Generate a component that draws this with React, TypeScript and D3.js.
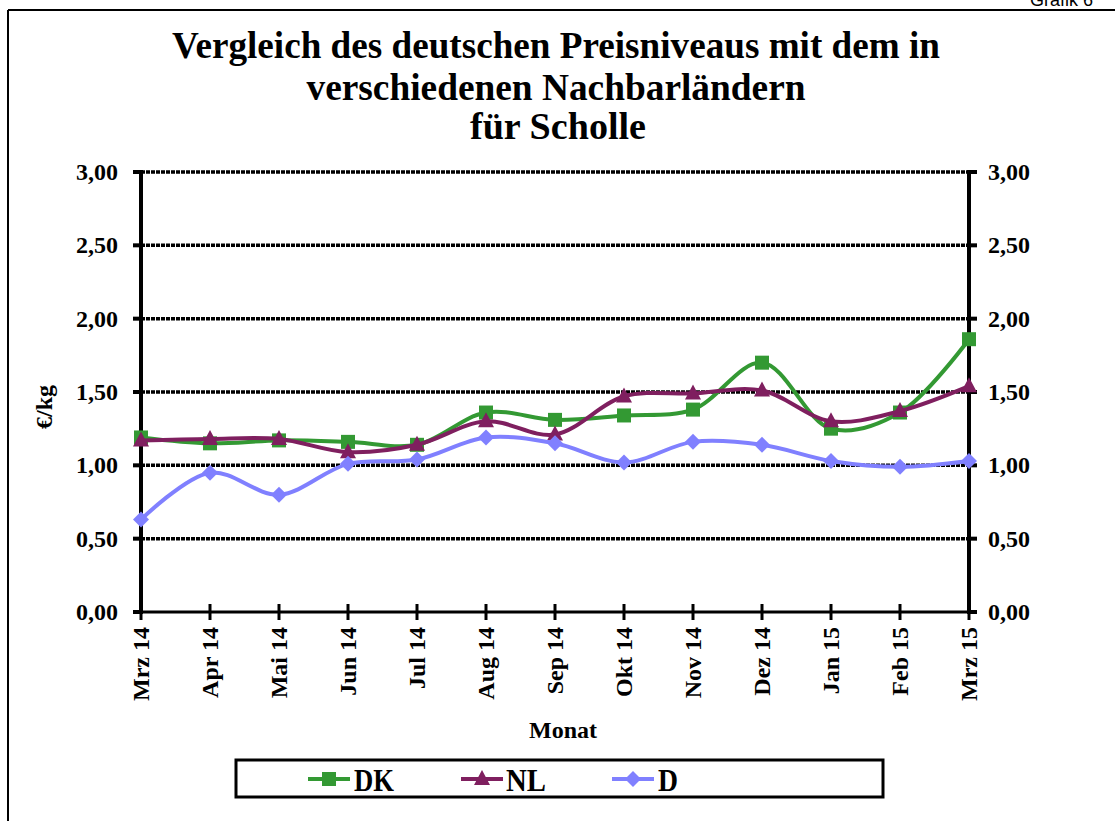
import React from 'react';
import * as d3 from 'd3';

const months = ['Mrz 14', 'Apr 14', 'Mai 14', 'Jun 14', 'Jul 14', 'Aug 14', 'Sep 14', 'Okt 14', 'Nov 14', 'Dez 14', 'Jan 15', 'Feb 15', 'Mrz 15'];
const dk = [1.19, 1.15, 1.17, 1.16, 1.14, 1.36, 1.31, 1.34, 1.38, 1.70, 1.25, 1.36, 1.86];
const nl = [1.17, 1.18, 1.18, 1.09, 1.14, 1.30, 1.21, 1.47, 1.49, 1.51, 1.30, 1.37, 1.54];
const de = [0.63, 0.95, 0.80, 1.01, 1.04, 1.19, 1.15, 1.02, 1.16, 1.14, 1.03, 0.99, 1.03];
const yTicks = [0, 0.5, 1, 1.5, 2, 2.5, 3];

const series = [
  { name: 'DK', values: dk, color: '#339933', marker: 'square' },
  { name: 'NL', values: nl, color: '#7f1f5f', marker: 'triangle' },
  { name: 'D', values: de, color: '#8080ff', marker: 'diamond' },
];

const serif = '"Liberation Serif", "Times New Roman", serif';

const Marker = ({ type, x, y, color }: { type: string; x: number; y: number; color: string }) => {
  if (type === 'square') return <rect x={x - 7} y={y - 7} width={14} height={14} fill={color} />;
  if (type === 'triangle') return <path d={`M${x},${y - 9} L${x + 8},${y + 6} L${x - 8},${y + 6} Z`} fill={color} />;
  return <path d={`M${x},${y - 8} L${x + 8},${y} L${x},${y + 8} L${x - 8},${y} Z`} fill={color} />;
};

const fmt = (v: number) => v.toFixed(2).replace('.', ',');

export default function App() {
  const width = 1115;
  const height = 821;
  const x = d3.scalePoint<string>().domain(months).range([141, 969]);
  const y = d3.scaleLinear().domain([0, 3]).range([612, 172]);
  const line = d3.line<number>()
    .x((_, i) => x(months[i]) as number)
    .y((d) => y(d))
    .curve(d3.curveCatmullRom.alpha(0.5));

  const legendItems = [
    { s: series[0], lx: 308, tx: 354 },
    { s: series[1], lx: 461, tx: 506 },
    { s: series[2], lx: 612, tx: 658 },
  ];

  return (
    <svg width={width} height={height} style={{ position: 'absolute', left: 0, top: 0, background: '#fff' }} fontFamily={serif} fontWeight="bold">
      <rect width={width} height={height} fill="#fff" />
      {/* frame */}
      <text x={1030} y={6} fontFamily='"Liberation Sans", Arial, sans-serif' fontWeight="normal" fontSize={18}>Grafik 6</text>
      <line x1={8} x2={width} y1={10} y2={10} stroke="#000" strokeWidth={2} />
      <line x1={8} x2={8} y1={10} y2={height} stroke="#000" strokeWidth={2} />

      {/* title */}
      <g fontSize={37} textAnchor="middle">
        <text x={556} y={58} textLength={768} lengthAdjust="spacingAndGlyphs">Vergleich des deutschen Preisniveaus mit dem in</text>
        <text x={556} y={100} textLength={499} lengthAdjust="spacingAndGlyphs">verschiedenen Nachbarländern</text>
        <text x={558} y={139} textLength={176} lengthAdjust="spacingAndGlyphs">für Scholle</text>
      </g>

      {/* gridlines */}
      {yTicks.filter((t) => t > 0).map((t) => (
        <line key={t} x1={141} x2={969} y1={y(t)} y2={y(t)} stroke="#000" strokeWidth={3.5} strokeDasharray="4,1" />
      ))}

      {/* y ticks and labels */}
      {yTicks.map((t) => (
        <g key={'yt' + t}>
          <line x1={133} x2={141} y1={y(t)} y2={y(t)} stroke="#000" strokeWidth={4} />
          <line x1={969} x2={977} y1={y(t)} y2={y(t)} stroke="#000" strokeWidth={4} />
          <text x={118} y={y(t) + 8} textAnchor="end" fontSize={24}>{fmt(t)}</text>
          <text x={988} y={y(t) + 8} textAnchor="start" fontSize={24}>{fmt(t)}</text>
        </g>
      ))}

      {/* axes */}
      <line x1={141} x2={141} y1={170} y2={614} stroke="#000" strokeWidth={4} />
      <line x1={969} x2={969} y1={170} y2={614} stroke="#000" strokeWidth={4} />
      <line x1={139} x2={971} y1={612} y2={612} stroke="#000" strokeWidth={3} />
      {months.map((m) => (
        <g key={m}>
          <line x1={x(m)} x2={x(m)} y1={604} y2={620} stroke="#000" strokeWidth={3} />
          <text transform={`translate(${(x(m) as number) + 8},627) rotate(-90)`} textAnchor="end" fontSize={24}>{m}</text>
        </g>
      ))}

      {/* axis titles */}
      <text x={563} y={738} textAnchor="middle" fontSize={24}>Monat</text>
      <text transform="translate(52,407) rotate(-90)" textAnchor="middle" fontSize={24}>€/kg</text>

      {/* series */}
      {series.map((s) => (
        <g key={s.name}>
          <path d={line(s.values) as string} fill="none" stroke={s.color} strokeWidth={4} />
          {s.values.map((v, i) => (
            <Marker key={i} type={s.marker} x={x(months[i]) as number} y={y(v)} color={s.color} />
          ))}
        </g>
      ))}

      {/* legend */}
      <rect x={236} y={760} width={647} height={37} fill="#fff" stroke="#000" strokeWidth={3} />
      {legendItems.map(({ s, lx, tx }) => (
        <g key={'lg' + s.name}>
          <line x1={lx} x2={lx + 42} y1={779} y2={779} stroke={s.color} strokeWidth={4} />
          <Marker type={s.marker} x={lx + 21} y={779} color={s.color} />
          <text x={tx} y={791} fontSize={32} textLength={s.name.length * 20} lengthAdjust="spacingAndGlyphs">{s.name}</text>
        </g>
      ))}
    </svg>
  );
}
